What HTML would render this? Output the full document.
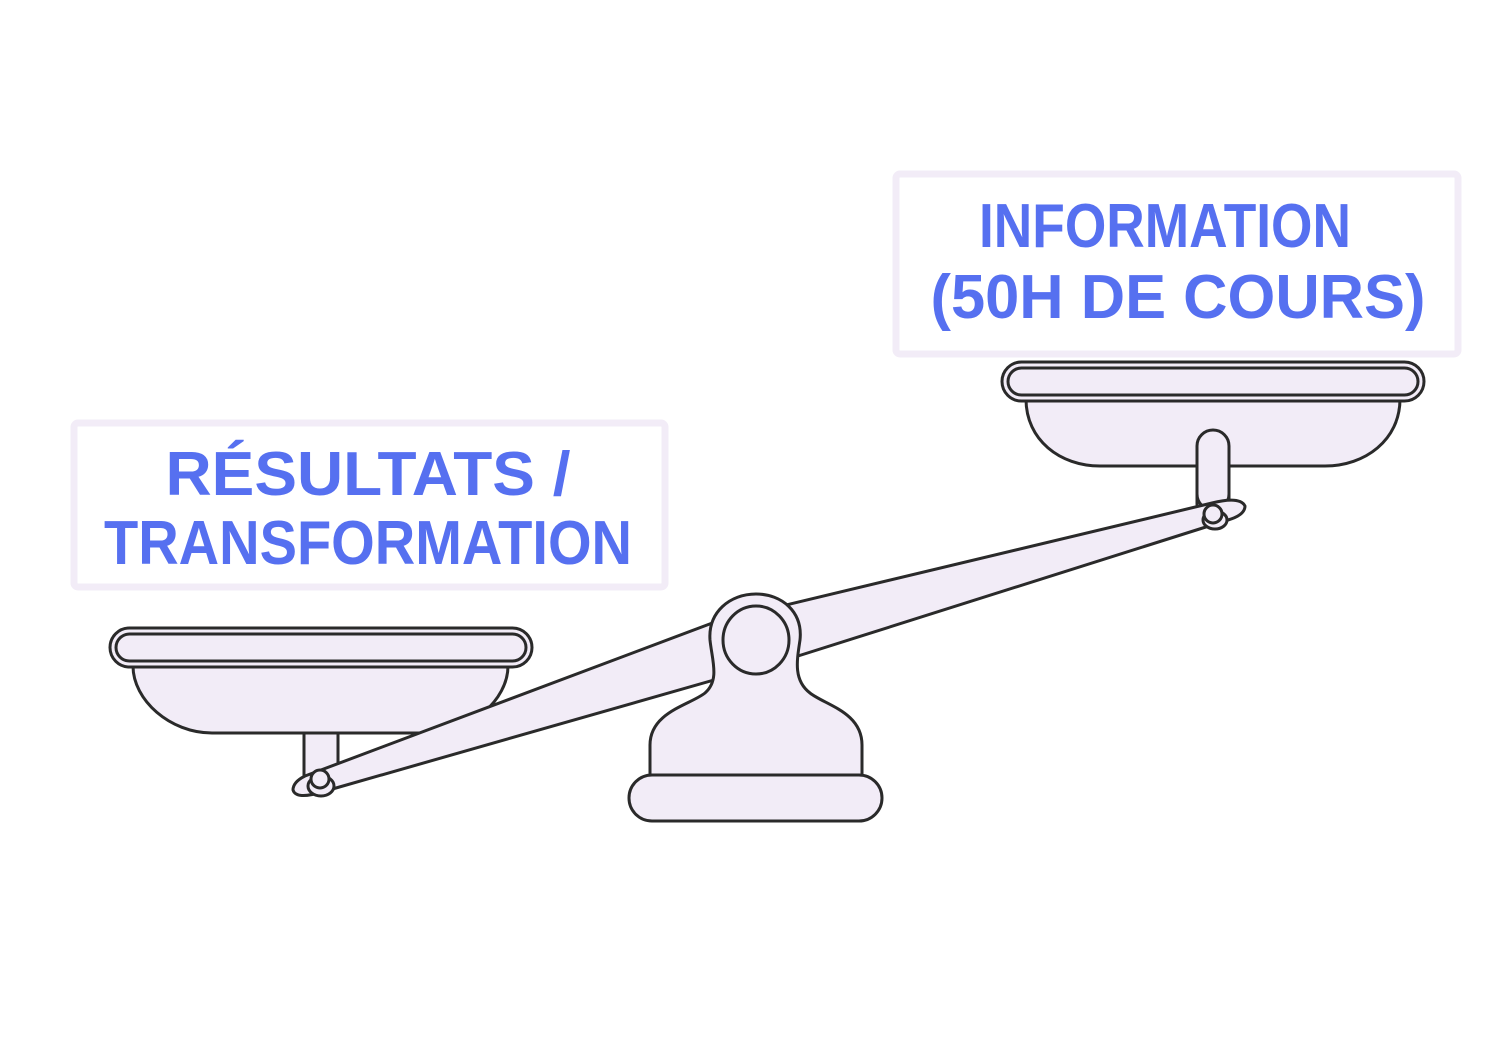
<!DOCTYPE html>
<html><head><meta charset="utf-8"><style>html,body{margin:0;padding:0;background:#fff}svg{display:block}</style></head>
<body>
<svg width="1500" height="1050" viewBox="0 0 1500 1050" xmlns="http://www.w3.org/2000/svg">
<g fill="none" stroke="#f2ecf7" stroke-width="7">
<rect x="74" y="423" width="591" height="164" rx="4"/>
<rect x="896" y="174" width="562" height="180" rx="4"/>
</g>
<g font-family="Liberation Sans, sans-serif" font-weight="bold" fill="#5670f0" font-size="62" text-anchor="middle">
<text x="368" y="495" textLength="405" lengthAdjust="spacingAndGlyphs">RÉSULTATS /</text>
<text x="368" y="564" textLength="528" lengthAdjust="spacingAndGlyphs">TRANSFORMATION</text>
<text x="1165" y="247" textLength="372" lengthAdjust="spacingAndGlyphs">INFORMATION</text>
<text x="1178" y="318" textLength="495" lengthAdjust="spacingAndGlyphs">(50H DE COURS)</text>
</g>
<g fill="#f2ecf7" stroke="#2a2a2a" stroke-width="3" stroke-linejoin="round">
<!-- right pan -->
<rect x="1197" y="430" width="32" height="90" rx="16"/>
<path d="M1026,399 C1026,440 1060,466 1100,466 L1325,466 C1365,466 1400,440 1400,399 Z"/>
<rect x="1197" y="430" width="32" height="80" rx="16"/>
<rect x="1002" y="362" width="422" height="39" rx="19.5"/>
<rect x="1008" y="368" width="410" height="27" rx="13.5"/>
<!-- left pan -->
<rect x="304" y="720" width="34" height="62"/>
<path d="M133,666 C133,700 170,733 212,733 L430,733 C470,733 508,700 508,666 Z"/>
<rect x="110" y="628" width="422" height="39" rx="19.5"/>
<rect x="116" y="634" width="410" height="27" rx="13.5"/>
<!-- beam -->
<path d="M305,776 L715,622 L1212,503 Q1240,496 1245,506 Q1245,515 1228,520 L798,656 L322,792 Q296,800 293,790 Q293,782 305,776 Z"/>
<ellipse cx="321" cy="786" rx="13" ry="10"/>
<circle cx="320" cy="779" r="9"/>
<ellipse cx="1215" cy="520" rx="12" ry="9"/>
<circle cx="1213" cy="514" r="9"/>
<!-- stand -->
<path d="M650,777 L650,745 C650,712 690,705 705,693 C720,680 712,660 710,640 C708,612 730,594 756,594 C782,594 803,612 800,640 C797,660 793,680 810,693 C825,705 862,712 862,745 L862,777 Z"/>
<ellipse cx="756" cy="640" rx="33" ry="34"/>
<rect x="629" y="775" width="253" height="46" rx="23"/>
</g>
</svg>
</body></html>
